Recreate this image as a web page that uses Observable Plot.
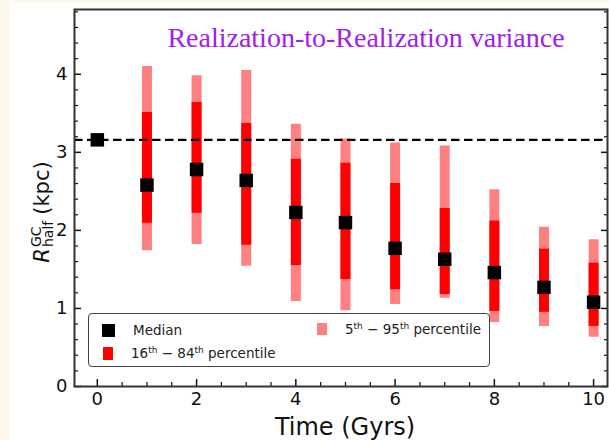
<!DOCTYPE html>
<html>
<head>
<meta charset="utf-8">
<script src="https://cdn.jsdelivr.net/npm/d3@7"></script>
<script src="https://cdn.jsdelivr.net/npm/@observablehq/plot@0.6"></script>
<style>
  html, body { margin: 0; padding: 0; width: 609px; height: 440px; overflow: hidden; background: #fdf8ec; font-family: "DejaVu Sans", sans-serif; }
  #panel { position: absolute; left: 10px; top: 3px; right: 0; bottom: 0; background: #fff; }
  #chart { position: absolute; left: 0; top: 0; }
  #ylabel { position: absolute; left: 42px; top: 212px; transform: translate(-50%, -50%) rotate(-90deg); white-space: nowrap; font-size: 21px; color: #111; display: flex; align-items: center; }
  #ylabel .R { font-style: italic; font-family: "DejaVu Sans", sans-serif; }
  #ylabel .stack { display: inline-flex; flex-direction: column; font-size: 14px; line-height: 12px; margin-left: 1px; margin-right: 6px; }
  #legend { position: absolute; left: 88px; top: 313px; width: 400px; height: 52px; border: 1.5px solid #444; border-radius: 4px; background: rgba(255,255,255,0.9); font-size: 13.5px; color: #222; }
  .li { position: absolute; display: flex; align-items: center; }
  .sw { display: inline-block; }
  .li sup { font-size: 9px; vertical-align: 5px; line-height: 0; }
</style>
</head>
<body>
<div id="panel"></div>
<div id="chart"></div>
<div id="ylabel"><span class="R">R</span><span class="stack"><span>GC</span><span>half</span></span><span>(kpc)</span></div>
<div id="legend"></div>
<script>
// Data
const times   = [0, 1, 2, 3, 4, 5, 6, 7, 8, 9, 10];
const median  = [3.16, 2.58, 2.78, 2.64, 2.23, 2.10, 1.77, 1.63, 1.46, 1.27, 1.08];
const p16     = [null, 2.09, 2.22, 1.81, 1.55, 1.37, 1.24, 1.18, 0.96, 0.95, 0.77];
const p84     = [null, 3.51, 3.64, 3.37, 2.91, 2.86, 2.60, 2.28, 2.12, 1.76, 1.58];
const p05     = [null, 1.74, 1.82, 1.54, 1.09, 0.97, 1.05, 1.13, 0.82, 0.77, 0.63];
const p95     = [null, 4.10, 3.98, 4.05, 3.36, 3.17, 3.12, 3.08, 2.52, 2.04, 1.88];
const referenceLine = [3.16];
const xMajor = [0, 2, 4, 6, 8, 10];
const xMinor = [0.5, 1, 1.5, 2.5, 3, 3.5, 4.5, 5, 5.5, 6.5, 7, 7.5, 8.5, 9, 9.5];
const yMajor = [0, 1, 2, 3, 4];
const yMinor = [0.2, 0.4, 0.6, 0.8, 1.2, 1.4, 1.6, 1.8, 2.2, 2.4, 2.6, 2.8, 3.2, 3.4, 3.6, 3.8, 4.2, 4.4, 4.6, 4.8];
const title = "Realization-to-Realization variance";
const xTitle = "Time (Gyrs)";

const colMedian = "#000000";
const colInner = "#ff0000";
const colOuter = "#ff8080";

const rows = times.map((t, i) => ({t, median: median[i], p16: p16[i], p84: p84[i], p05: p05[i], p95: p95[i]}));
const spread = rows.filter(d => d.p05 != null);
const blank = () => "";
const intFmt = d3.format("d");

const chart = Plot.plot({
  width: 609,
  height: 440,
  marginLeft: 74,
  marginRight: 2,
  marginTop: 9,
  marginBottom: 54,
  style: {background: "transparent", fontFamily: "DejaVu Sans, sans-serif", color: "#111"},
  x: {domain: [-0.46, 10.28], label: null},
  y: {domain: [0, 4.83], label: null},
  marks: [
    Plot.ruleX(spread, {x: "t", y1: "p05", y2: "p95", stroke: colOuter, strokeWidth: 10}),
    Plot.ruleX(spread, {x: "t", y1: "p16", y2: "p84", stroke: colInner, strokeWidth: 10}),
    Plot.ruleY(referenceLine, {y: d => d, stroke: "#000", strokeWidth: 2.2, strokeDasharray: "8.5,4.5"}),
    Plot.dot(rows, {x: "t", y: "median", symbol: "square", r: 7.6, fill: colMedian, stroke: "none"}),
    // tick labels
    Plot.axisX({ticks: xMajor, tickSize: 0, tickPadding: 6, fontSize: 18, tickFormat: intFmt, label: null}),
    Plot.axisY({ticks: yMajor, tickSize: 0, tickPadding: 7, fontSize: 18, tickFormat: intFmt, label: null}),
    // inward ticks
    Plot.axisX({ticks: xMajor, tickSize: 7, dy: -7, tickFormat: blank, label: null, strokeWidth: 1.5}),
    Plot.axisX({ticks: xMinor, tickSize: 4, dy: -4, tickFormat: blank, label: null, strokeWidth: 1.2}),
    Plot.axisY({ticks: yMajor, tickSize: 7, dx: 7, tickFormat: blank, label: null, strokeWidth: 1.5}),
    Plot.axisY({ticks: yMinor, tickSize: 4, dx: 4, tickFormat: blank, label: null, strokeWidth: 1.2}),
    Plot.axisY({anchor: "right", ticks: yMajor, tickSize: 7, dx: -7, tickFormat: blank, label: null, strokeWidth: 1.5}),
    Plot.axisY({anchor: "right", ticks: yMinor, tickSize: 4, dx: -4, tickFormat: blank, label: null, strokeWidth: 1.2}),
    Plot.frame({stroke: "#333", strokeWidth: 2}),
    Plot.text([title], {text: d => d, frameAnchor: "top", dx: 25, dy: 29, fill: "#a020f0", fontSize: 28, fontFamily: "Liberation Serif, serif", lineAnchor: "middle"}),
    Plot.text([xTitle], {text: d => d, frameAnchor: "bottom", dx: 4, dy: 41, fontSize: 24, fill: "#111", lineAnchor: "middle"})
  ]
});
document.getElementById("chart").append(chart);

// legend (HTML overlay)
const legendItems = [
  {left: 13, top: 8, sw: [13, 13], color: colMedian, html: "Median"},
  {left: 14, top: 31, sw: [10, 13], color: colInner, html: "16<sup>th</sup> − 84<sup>th</sup> percentile"},
  {left: 228, top: 7, sw: [10, 12], color: colOuter, html: "5<sup>th</sup> − 95<sup>th</sup> percentile"}
];
const legend = document.getElementById("legend");
for (const it of legendItems) {
  const el = document.createElement("div");
  el.className = "li";
  el.style.left = it.left + "px";
  el.style.top = it.top + "px";
  el.innerHTML = `<span class="sw" style="width:${it.sw[0]}px;height:${it.sw[1]}px;background:${it.color};margin-right:${it.left > 100 ? 18 : 18}px"></span><span>${it.html}</span>`;
  legend.append(el);
}
</script>
</body>
</html>
